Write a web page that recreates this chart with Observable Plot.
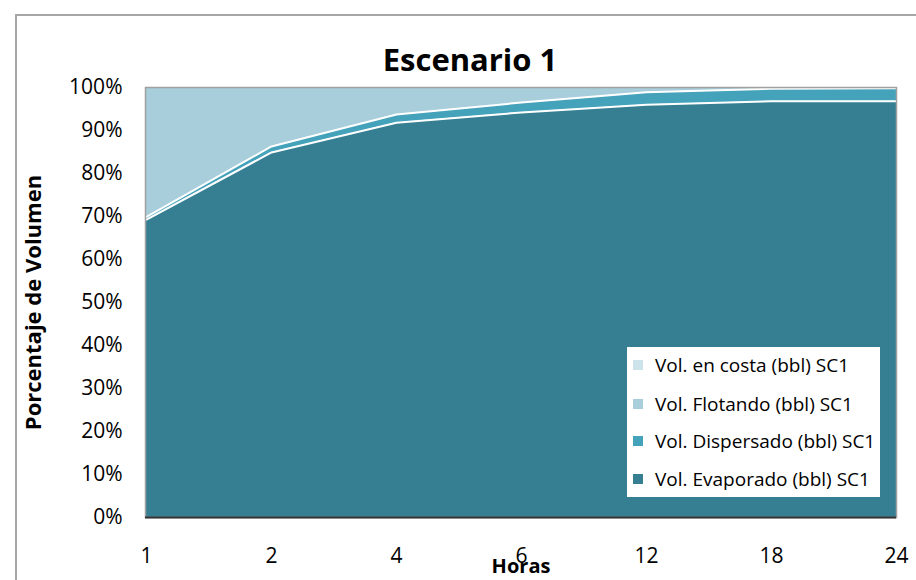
<!DOCTYPE html>
<html>
<head>
<meta charset="utf-8">
<script src="https://cdn.jsdelivr.net/npm/d3@7"></script>
<script src="https://cdn.jsdelivr.net/npm/@observablehq/plot@0.6"></script>
<style>
  html, body { margin: 0; padding: 0; background: #fff; overflow: hidden; }
  body { width: 916px; height: 580px; position: relative; font-family: "Open Sans", sans-serif; }
  #outer { position: absolute; left: 15px; top: 14px; width: 1000px; height: 700px;
           border-left: 2px solid #a6a6a6; border-top: 2px solid #a6a6a6; box-sizing: border-box; }
  #chart { position: absolute; left: 0; top: 0; }
  #title { position: absolute; left: 0; width: 916px; text-align: center; top: 39px;
           font-size: 31px; font-weight: bold; color: #000; margin-left: 12px; line-height: 40px; }
  #legend { position: absolute; left: 627px; top: 347px; width: 253px; height: 150px; background: #fff;
            font-size: 19px; color: #000; }
  #legend .item { position: absolute; left: 6px; display: flex; align-items: center; white-space: nowrap; line-height: 22px; }
  #legend .sw { width: 10px; height: 10px; margin-right: 12px; }
  g[aria-label="y-axis label"] text, g[aria-label="x-axis label"] text { font-weight: bold; font-size: 22px; }
  g[aria-label="x-axis label"] text { font-size: 20px; }
</style>
</head>
<body>
<div id="outer"></div>
<div id="chart"></div>
<div id="title">Escenario 1</div>
<div id="legend"></div>
<script>
const hours = ["1", "2", "4", "6", "12", "18", "24"];
const seriesNames = [
  "Vol. Evaporado (bbl) SC1",
  "Vol. Dispersado (bbl) SC1",
  "Vol. Flotando (bbl) SC1",
  "Vol. en costa (bbl) SC1"
];
const evaporado  = [69.3, 84.9, 91.8, 94.2, 96.0, 96.8, 96.8];
const dispersado = [0.6, 1.4, 1.9, 2.3, 2.9, 2.9, 3.0];
const flotando   = [30.1, 13.7, 6.3, 3.5, 1.1, 0.3, 0.2];
const costa      = [0, 0, 0, 0, 0, 0, 0];
const colors = ["#367f92", "#44a2bb", "#a8cedc", "#cde3eb"];
const yTicks = [0, 10, 20, 30, 40, 50, 60, 70, 80, 90, 100];

const valuesBySeries = [evaporado, dispersado, flotando, costa];
const data = [];
seriesNames.forEach((s, si) => {
  hours.forEach((h, hi) => data.push({ hour: h, series: s, value: valuesBySeries[si][hi] }));
});

const stackOpts = { x: "hour", y: "value", z: "series", order: seriesNames };

const plot = Plot.plot({
  width: 916,
  height: 580,
  marginLeft: 145,
  marginRight: 20,
  marginTop: 87,
  marginBottom: 63,
  style: { fontFamily: "'Open Sans', sans-serif", fontSize: "21px", color: "#000", background: "transparent" },
  x: { type: "point", domain: hours, padding: 0 },
  y: { domain: [0, 100] },
  color: { domain: seriesNames, range: colors },
  marks: [
    Plot.areaY(data, Plot.stackY({ ...stackOpts, fill: "series", curve: "linear" })),
    Plot.lineY(data.filter(d => d.series === seriesNames[0] || d.series === seriesNames[1]),
      Plot.stackY2({ ...stackOpts, order: seriesNames.slice(0, 2), stroke: "white", strokeWidth: 2, curve: "linear" })),
    Plot.frame({ stroke: "#a0a0a0", strokeWidth: 1.5 }),
    Plot.ruleY([0], { stroke: "#333", strokeWidth: 2 }),
    Plot.axisY({ ticks: yTicks, tickFormat: d => d + "%", tickSize: 0, tickPadding: 23,
                 label: "Porcentaje de Volumen", labelAnchor: "center", labelOffset: 120, labelArrow: "none",
                 fontSize: 21 }),
    Plot.axisX({ tickSize: 0, tickPadding: 31, label: "Horas", labelAnchor: "center", labelOffset: 55,
                 labelArrow: "none", fontSize: 21 })
  ]
});
document.getElementById("chart").appendChild(plot);

// legend (top entry first, as in reference)
const legend = document.getElementById("legend");
const order = [3, 2, 1, 0];
const tops = [7, 46, 83, 121];
order.forEach((si, i) => {
  const it = document.createElement("div");
  it.className = "item";
  it.style.top = tops[i] + "px";
  it.innerHTML = `<div class="sw" style="background:${colors[si]}"></div><span>${seriesNames[si]}</span>`;
  legend.appendChild(it);
});
</script>
</body>
</html>
